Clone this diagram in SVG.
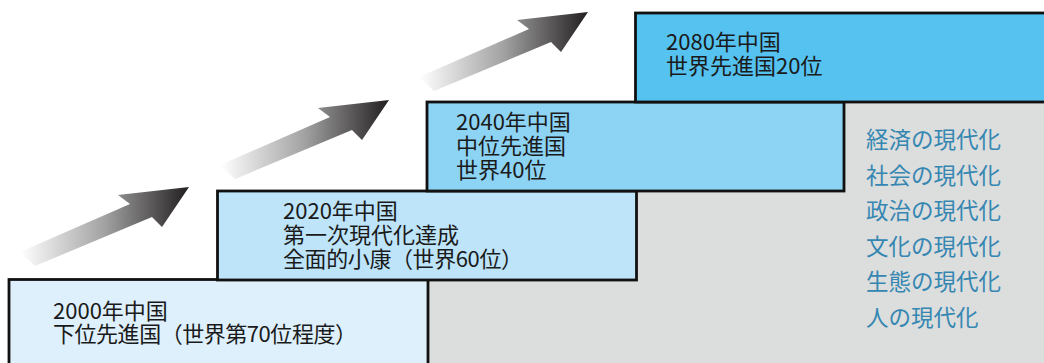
<svg xmlns="http://www.w3.org/2000/svg" width="1044" height="363" viewBox="0 0 1044 363">
<defs>
<linearGradient id="ag" x1="0" y1="0" x2="1" y2="0">
<stop offset="0" stop-color="#ffffff"/>
<stop offset="0.5" stop-color="#a2a2a2"/>
<stop offset="1" stop-color="#231f20"/>
</linearGradient>
<polygon id="arr" points="-169,65 -59,17 -71,8 0,0 -27,40 -37,30 -154,79" fill="url(#ag)"/>
</defs>
<style>
.box{stroke:#111;stroke-width:2.8}
.t{font-family:"Noto Sans CJK JP","Noto Sans",sans-serif;font-size:22px;fill:#1a1a1a}
.s{font-family:"Noto Sans CJK JP","Noto Sans",sans-serif;font-size:22.5px;fill:#3587b2}
</style>
<rect x="428" y="101" width="616" height="262" fill="#dcdddd"/>
<g id="connectors">
<use href="#arr" transform="translate(189,187)"/>
<use href="#arr" transform="translate(389,100)"/>
<use href="#arr" transform="translate(588,12)"/>
</g>
<g id="n2000">
<rect class="box" x="9" y="279.5" width="419" height="100" fill="#def0fb"/>
<text class="t" x="53" y="319">2000年中国</text>
<text class="t" x="53" y="342" textLength="304">下位先進国（世界第70位程度）</text>
</g>
<g id="n2020">
<rect class="box" x="217.5" y="191" width="419" height="89" fill="#bde4f9"/>
<text class="t" x="283" y="219">2020年中国</text>
<text class="t" x="283" y="243">第一次現代化達成</text>
<text class="t" x="283" y="267" textLength="240">全面的小康（世界60位）</text>
</g>
<g id="n2040">
<rect class="box" x="427" y="102" width="417" height="89" fill="#8dd3f4"/>
<text class="t" x="456" y="130">2040年中国</text>
<text class="t" x="456" y="154">中位先進国</text>
<text class="t" x="456" y="178">世界40位</text>
</g>
<g id="n2080">
<rect class="box" x="635.5" y="13" width="420" height="89" fill="#55c2f0"/>
<text class="t" x="666" y="50">2080年中国</text>
<text class="t" x="666" y="74">世界先進国20位</text>
</g>
<g id="list">
<text class="s" x="866" y="148">経済の現代化</text>
<text class="s" x="866" y="183.5">社会の現代化</text>
<text class="s" x="866" y="219">政治の現代化</text>
<text class="s" x="866" y="254.5">文化の現代化</text>
<text class="s" x="866" y="290">生態の現代化</text>
<text class="s" x="866" y="325.5">人の現代化</text>
</g>
</svg>
